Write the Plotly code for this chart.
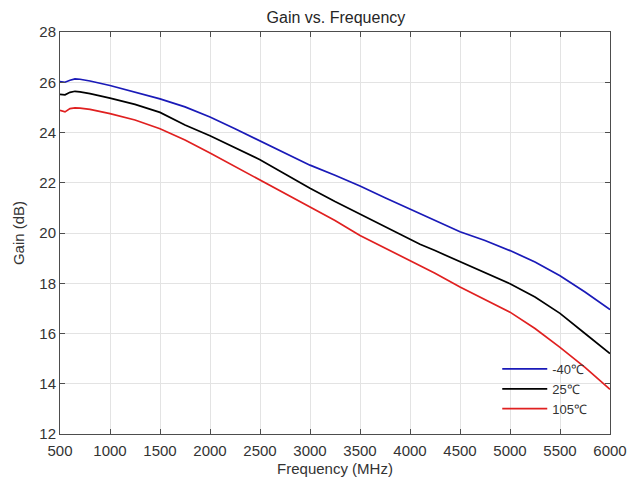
import plotly.graph_objects as go

freq = [500, 550, 600, 650, 700, 800, 1000, 1250, 1500, 1750, 2000, 2250, 2500, 2750,
        3000, 3250, 3500, 3750, 4000, 4100, 4250, 4500, 4750, 5000, 5250, 5500, 5750, 6000]

gain_m40 = [26.03, 26.00, 26.08, 26.13, 26.12, 26.05, 25.87, 25.62, 25.34, 25.02, 24.62, 24.15,
            23.67, 23.17, 22.70, 22.30, 21.87, 21.40, 20.95, 20.78, 20.50, 20.05, 19.70, 19.30,
            18.85, 18.30, 17.65, 16.95]
gain_25 = [25.52, 25.50, 25.60, 25.64, 25.62, 25.55, 25.37, 25.12, 24.80, 24.30, 23.87, 23.40,
           22.92, 22.35, 21.78, 21.25, 20.75, 20.25, 19.75, 19.55, 19.30, 18.85, 18.40, 17.98,
           17.45, 16.80, 16.00, 15.20]
gain_105 = [24.88, 24.82, 24.95, 24.98, 24.97, 24.92, 24.75, 24.50, 24.15, 23.70, 23.18, 22.65,
            22.10, 21.58, 21.05, 20.50, 19.90, 19.40, 18.90, 18.72, 18.40, 17.85, 17.35, 16.85,
            16.20, 15.45, 14.65, 13.78]

series_names = ["-40℃", "25℃", "105℃"]
colors = ["#1a1ab8", "#000000", "#e02020"]

x_ticks = [500, 1000, 1500, 2000, 2500, 3000, 3500, 4000, 4500, 5000, 5500, 6000]
y_ticks = [12, 14, 16, 18, 20, 22, 24, 26, 28]

fig = go.Figure()
for name, ys, c in zip(series_names, [gain_m40, gain_25, gain_105], colors):
    fig.add_trace(go.Scatter(x=freq, y=ys, mode="lines", name=name,
                             line=dict(color=c, width=1.7)))

FONT = "Liberation Sans, Arial, sans-serif"
axis_common = dict(
    showline=True, linecolor="#4d4d4d", linewidth=1, mirror="allticks",
    ticks="inside", ticklen=5, tickcolor="#4d4d4d",
    showgrid=True, gridcolor="#e3e3e3", gridwidth=1, zeroline=False,
    automargin=False,
    tickfont=dict(size=15, color="#333333", family=FONT),
)

fig.update_layout(
    width=638, height=481,
    margin=dict(l=52, r=36, t=24, b=55),
    paper_bgcolor="white", plot_bgcolor="white",
    font=dict(family=FONT, color="#262626", size=14),
    title=dict(text="Gain vs. Frequency", x=0.514, xanchor="center",
               yref="container", y=0.993, yanchor="top",
               font=dict(size=16, color="#262626")),
    xaxis=dict(range=[500, 6000], tickvals=x_ticks, ticktext=[str(t) for t in x_ticks],
               ticklabelstandoff=3,
               title=dict(text="Frequency (MHz)", standoff=5, font=dict(size=15, color="#333333")),
               **axis_common),
    yaxis=dict(range=[12, 28], tickvals=y_ticks, ticktext=[str(t) for t in y_ticks],
               title=dict(text="Gain (dB)", standoff=11, font=dict(size=15, color="#333333")),
               **axis_common),
    legend=dict(x=0.795, xanchor="left", y=0.025, yanchor="bottom",
                bgcolor="rgba(0,0,0,0)", borderwidth=0,
                font=dict(size=13, color="#333333"), itemwidth=45, tracegroupgap=0),
    showlegend=True,
)

fig.write_html("out.html")
